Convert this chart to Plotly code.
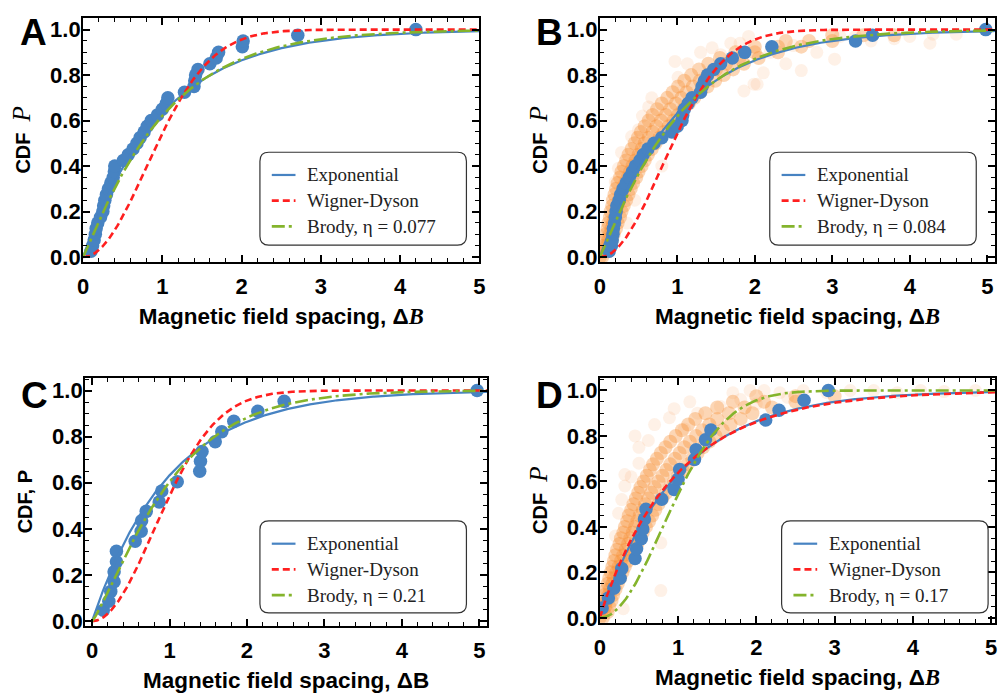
import math
import numpy as np
import plotly.graph_objects as go

W, H = 1003, 698

# ---------------- data ----------------
# Panel A : measured empirical CDF
A_x = [0.10, 0.12, 0.14, 0.155, 0.165, 0.185, 0.22, 0.25, 0.26, 0.275,
       0.295, 0.32, 0.35, 0.38, 0.395, 0.40, 0.51, 0.57, 0.63, 0.68,
       0.72, 0.77, 0.81, 0.86, 0.94, 1.00, 1.05, 1.07, 1.28, 1.40,
       1.41, 1.42, 1.45, 1.60, 1.68, 1.71, 2.01, 2.02, 2.71, 4.20]
A_y = [0.025, 0.05, 0.075, 0.10, 0.125, 0.15, 0.175, 0.20, 0.225, 0.25,
       0.275, 0.30, 0.325, 0.35, 0.375, 0.40, 0.425, 0.45, 0.475, 0.50,
       0.525, 0.55, 0.575, 0.60, 0.625, 0.65, 0.675, 0.70, 0.725, 0.75,
       0.775, 0.80, 0.825, 0.85, 0.875, 0.90, 0.925, 0.95, 0.975, 1.00]

# Panel B : measured empirical CDF
B_x = [0.12, 0.15, 0.16, 0.17, 0.175, 0.19, 0.20, 0.21, 0.22, 0.25,
       0.27, 0.30, 0.34, 0.38, 0.42, 0.46, 0.52, 0.56, 0.62, 0.70,
       0.80, 0.93, 1.00, 1.06, 1.07, 1.09, 1.14, 1.19, 1.30, 1.32,
       1.35, 1.39, 1.47, 1.56, 1.71, 1.87, 2.22, 3.30, 3.52, 4.98]
B_y = A_y

# Panel C : measured empirical CDF
C_x = [0.145, 0.217, 0.242, 0.285, 0.285, 0.315, 0.315, 0.557, 0.634, 0.64,
       0.70, 0.867, 0.90, 1.10, 1.39, 1.40, 1.42, 1.59, 1.675, 1.83,
       2.14, 2.48, 4.97]
C_y = [0.047, 0.086, 0.129, 0.171, 0.214, 0.257, 0.303, 0.346, 0.39, 0.435,
       0.476, 0.517, 0.564, 0.604, 0.65, 0.693, 0.736, 0.778, 0.821, 0.867,
       0.91, 0.953, 1.0]

# Panel D : measured empirical CDF
D_x = [0.03, 0.11, 0.18, 0.26, 0.28, 0.45, 0.47, 0.53, 0.55, 0.57,
       0.59, 0.79, 0.95, 1.00, 1.02, 1.21, 1.23, 1.35, 1.42, 2.12,
       2.29, 2.61, 2.92]
D_y = [0.043, 0.087, 0.13, 0.174, 0.217, 0.261, 0.304, 0.348, 0.391, 0.435,
       0.478, 0.522, 0.565, 0.609, 0.652, 0.696, 0.739, 0.783, 0.826, 0.870,
       0.913, 0.957, 1.0]

# Orange clouds (simulated realisations) in B and D.
# dense core, as rows of (P, spacings)
B_core_rows = [
    (0.000, [0.00, 0.03]),
    (0.025, [0.03, 0.07, 0.11]),
    (0.050, [0.05, 0.09, 0.14]),
    (0.075, [0.07, 0.11, 0.16]),
    (0.100, [0.08, 0.13, 0.18]),
    (0.125, [0.10, 0.15, 0.21]),
    (0.150, [0.11, 0.17, 0.23]),
    (0.175, [0.13, 0.19, 0.26]),
    (0.200, [0.14, 0.21, 0.28]),
    (0.225, [0.16, 0.23, 0.31]),
    (0.250, [0.17, 0.25, 0.34]),
    (0.275, [0.19, 0.28, 0.37]),
    (0.300, [0.21, 0.30, 0.40]),
    (0.325, [0.23, 0.33, 0.43]),
    (0.350, [0.26, 0.36, 0.47]),
    (0.375, [0.28, 0.39, 0.50]),
    (0.400, [0.31, 0.42, 0.54]),
    (0.425, [0.34, 0.46, 0.58]),
    (0.450, [0.37, 0.50, 0.62]),
    (0.475, [0.41, 0.54, 0.67]),
    (0.500, [0.45, 0.58, 0.72]),
    (0.525, [0.49, 0.63, 0.77]),
    (0.550, [0.53, 0.68, 0.83]),
    (0.575, [0.58, 0.73, 0.89]),
    (0.600, [0.63, 0.79, 0.95]),
    (0.625, [0.68, 0.85, 1.01]),
    (0.650, [0.74, 0.91, 1.08]),
    (0.675, [0.80, 0.98, 1.15]),
    (0.700, [0.87, 1.05, 1.22]),
    (0.725, [0.94, 1.12, 1.30]),
    (0.750, [1.01, 1.20, 1.39]),
    (0.775, [1.09, 1.29, 1.49]),
    (0.800, [1.18, 1.39, 1.60]),
    (0.825, [1.28, 1.50, 1.72]),
    (0.850, [1.40, 1.63, 1.86]),
    (0.875, [1.55, 1.80, 2.05]),
    (0.900, [1.75, 2.00, 2.30]),
    (0.925, [2.00, 2.30, 2.60]),
    (0.950, [2.40, 2.70, 3.00]),
    (0.975, [3.00, 3.40, 3.80]),
]
# faint scattered realisations
B_halo_x = [0.67, 0.63, 0.55, 0.50, 0.41, 0.28, 0.24, 0.20, 1.13, 1.01,
            0.97, 1.69, 1.92, 2.11, 1.86, 2.03, 1.99, 2.60, 3.03, 4.26,
            4.00, 4.30, 4.60, 3.10, 1.81, 1.56, 2.40, 2.80, 3.50, 3.80,
            1.30, 1.45, 2.20, 2.50, 3.30, 0.05, 0.02, 0.35, 0.45, 0.80]
B_halo_y = [0.70, 0.66, 0.62, 0.56, 0.53, 0.46, 0.39, 0.33, 0.85, 0.79,
            0.86, 0.94, 0.97, 0.81, 0.73, 0.76, 0.76, 0.82, 0.87, 0.94,
            0.97, 0.98, 0.98, 0.97, 0.94, 0.89, 0.85, 0.90, 0.95, 0.96,
            0.90, 0.92, 0.90, 0.93, 0.97, 0.05, 0.02, 0.15, 0.25, 0.40]

D_core_rows = [
    (0.000, [0.00, 0.04]),
    (0.025, [0.01, 0.05, 0.10]),
    (0.050, [0.03, 0.07, 0.12]),
    (0.075, [0.05, 0.09, 0.15]),
    (0.100, [0.06, 0.11, 0.17]),
    (0.125, [0.08, 0.13, 0.20]),
    (0.150, [0.10, 0.16, 0.23]),
    (0.175, [0.12, 0.18, 0.26]),
    (0.200, [0.14, 0.21, 0.29]),
    (0.225, [0.16, 0.24, 0.32]),
    (0.250, [0.18, 0.27, 0.36]),
    (0.275, [0.20, 0.30, 0.40]),
    (0.300, [0.22, 0.33, 0.44]),
    (0.325, [0.25, 0.36, 0.48]),
    (0.350, [0.27, 0.39, 0.51]),
    (0.375, [0.30, 0.42, 0.55]),
    (0.400, [0.32, 0.45, 0.59]),
    (0.425, [0.35, 0.48, 0.63]),
    (0.450, [0.37, 0.51, 0.67]),
    (0.475, [0.40, 0.55, 0.71]),
    (0.500, [0.43, 0.58, 0.75]),
    (0.525, [0.46, 0.62, 0.80]),
    (0.550, [0.49, 0.66, 0.85]),
    (0.575, [0.52, 0.70, 0.90]),
    (0.600, [0.56, 0.75, 0.95]),
    (0.625, [0.60, 0.80, 1.00]),
    (0.650, [0.64, 0.85, 1.06]),
    (0.675, [0.68, 0.90, 1.12]),
    (0.700, [0.73, 0.96, 1.18]),
    (0.725, [0.78, 1.02, 1.25]),
    (0.750, [0.84, 1.08, 1.32]),
    (0.775, [0.90, 1.15, 1.40]),
    (0.800, [0.97, 1.23, 1.48]),
    (0.825, [1.05, 1.31, 1.57]),
    (0.850, [1.13, 1.40, 1.67]),
    (0.875, [1.22, 1.50, 1.80]),
    (0.900, [1.35, 1.65, 1.95]),
    (0.925, [1.50, 1.85, 2.20]),
    (0.950, [1.70, 2.10, 2.50]),
    (0.975, [2.00, 2.50, 3.00]),
]
D_halo_x = [0.89, 0.50, 0.50, 0.32, 0.32, 0.28, 0.24, 1.08, 1.54, 1.92,
            2.00, 0.78, 0.30, 0.78, 0.62, 0.45, 0.70, 1.25, 1.70, 2.10,
            2.30, 2.60, 2.90, 3.20, 3.50, 3.80, 4.10, 4.40, 4.80, 1.80,
            2.40, 0.95, 0.20, 0.40, 1.15]
D_halo_y = [0.88, 0.75, 0.68, 0.63, 0.58, 0.52, 0.46, 0.83, 0.93, 1.00,
            0.94, 0.12, 0.04, 0.33, 0.78, 0.80, 0.85, 0.90, 0.99, 1.00,
            0.99, 1.00, 0.99, 1.00, 1.00, 0.99, 1.00, 0.995, 1.00, 0.96,
            0.97, 0.92, 0.36, 0.62, 0.95]

# Brody parameters from the legends
eta_A, eta_B, eta_C, eta_D = 0.077, 0.084, 0.21, 0.17
# In panel D the drawn curves do not follow their legend labels: the red dashed
# curve hugs the exponential and the green dash-dot one is Wigner-Dyson-like.
D_red_eta = -0.04
D_green_eta = 1.0

x_ticks = [0, 1, 2, 3, 4, 5]
y_ticks = [0.0, 0.2, 0.4, 0.6, 0.8, 1.0]
letters = ["A", "B", "C", "D"]
legend_labels = [
    ["Exponential", "Wigner-Dyson", "Brody, η = 0.077"],
    ["Exponential", "Wigner-Dyson", "Brody, η = 0.084"],
    ["Exponential", "Wigner-Dyson", "Brody, η = 0.21"],
    ["Exponential", "Wigner-Dyson", "Brody, η = 0.17"],
]


# ---------------- theoretical CDFs ----------------
def cdf_exp(s):
    return 1 - np.exp(-s)


def cdf_wd(s):
    return 1 - np.exp(-np.pi * s ** 2 / 4)


def cdf_brody(s, eta):
    b = eta + 1.0
    a = math.gamma((eta + 2.0) / (eta + 1.0)) ** b
    return 1 - np.exp(-a * s ** b)


s = np.linspace(0, 5.1, 400)

BLUE = "#4783C2"
RED = "#FF1F1F"
GREEN = "#84B42C"
CORE = "rgba(246,140,50,0.36)"
HALO = "rgba(246,150,70,0.13)"

fig = go.Figure()


def flat(rows):
    xs, ys = [], []
    for p, row in rows:
        for v in row:
            xs.append(v)
            ys.append(p)
    return xs, ys


curves = [
    [cdf_exp(s), cdf_wd(s), cdf_brody(s, eta_A)],
    [cdf_exp(s), cdf_wd(s), cdf_brody(s, eta_B)],
    [cdf_exp(s), cdf_wd(s), cdf_brody(s, eta_C)],
    [cdf_exp(s), cdf_brody(s, D_red_eta), cdf_brody(s, D_green_eta)],
]
points = [(A_x, A_y), (B_x, B_y), (C_x, C_y), (D_x, D_y)]
clouds = [None, (B_core_rows, B_halo_x, B_halo_y), None, (D_core_rows, D_halo_x, D_halo_y)]

styles = [(BLUE, "solid", 2.2), (RED, "7px,4px", 2.6), (GREEN, "13px,4px,3px,4px", 2.6)]

for i in range(4):
    sfx = "" if i == 0 else str(i + 1)
    xa, ya = "x" + sfx, "y" + sfx
    if clouds[i] is not None:
        rows, hx, hy = clouds[i]
        fig.add_trace(go.Scatter(x=hx, y=hy, mode="markers", xaxis=xa, yaxis=ya,
                                 marker=dict(size=13, color=HALO, line=dict(width=0)),
                                 showlegend=False, hoverinfo="skip"))
        cx, cy = flat(rows)
        fig.add_trace(go.Scatter(x=cx, y=cy, mode="markers", xaxis=xa, yaxis=ya,
                                 marker=dict(size=14, color=CORE, line=dict(width=0)),
                                 showlegend=False, hoverinfo="skip"))
    fig.add_trace(go.Scatter(x=points[i][0], y=points[i][1], mode="markers",
                             xaxis=xa, yaxis=ya,
                             marker=dict(size=13.5, color=BLUE, line=dict(width=0)),
                             showlegend=False))
    for (col, dash, wd), yy, name in zip(styles, curves[i], legend_labels[i]):
        fig.add_trace(go.Scatter(x=s, y=yy, mode="lines", xaxis=xa, yaxis=ya, name=name,
                                 line=dict(color=col, width=wd, dash=dash),
                                 showlegend=False))

# ---------------- axes ----------------
tickfont = dict(family="Liberation Sans", size=22, color="black", weight="bold")
titlefont = dict(family="Liberation Sans", size=22.5, color="black", weight="bold")

xdom = [[78, 479], [601, 1001], [80, 487], [601, 1001]]
ydom = [[18, 265], [18, 265], [382, 633], [382, 630]]
xr = [[0, 5], [0, 5.10], [-0.09, 5.10], [0, 5.05]]
yr = [[-0.0217, 1.052], [-0.0217, 1.052], [-0.020, 1.056], [-0.0217, 1.0565]]

serifB = "<span style='font-family:Liberation Serif;font-style:italic'>B</span>"
serifP = ("<span style='font-family:Liberation Serif;font-style:italic;"
          "font-weight:normal;font-size:25px'>P</span>")
xtitles = ["Magnetic field spacing, Δ" + serifB, "Magnetic field spacing, Δ" + serifB,
           "Magnetic field spacing, ΔB", "Magnetic field spacing, Δ" + serifB]
ytitles = ["CDF  " + serifP, "CDF  " + serifP, "CDF, P", "CDF  " + serifP]

common = dict(showline=True, linecolor="black", linewidth=2, mirror="allticks",
              ticks="inside", ticklen=7, tickwidth=1.6, tickcolor="black",
              showgrid=False, zeroline=False, tickfont=tickfont)

for i in range(4):
    sfx = "" if i == 0 else str(i + 1)
    fig.layout["xaxis" + sfx] = dict(
        common, domain=[xdom[i][0] / W, xdom[i][1] / W], range=xr[i],
        anchor="y" + sfx, tickvals=x_ticks, ticktext=[str(v) for v in x_ticks],
        ticklabelstandoff=4,
        minor=dict(ticks="inside", ticklen=4, tickwidth=1.2, tickcolor="black", dtick=0.2),
        title=dict(text=xtitles[i], font=titlefont, standoff=10))
    fig.layout["yaxis" + sfx] = dict(
        common, domain=[1 - ydom[i][1] / H, 1 - ydom[i][0] / H], range=yr[i],
        anchor="x" + sfx, tickvals=y_ticks, ticktext=["%.1f" % v for v in y_ticks],
        ticklabelstandoff=-4,
        minor=dict(ticks="inside", ticklen=4, tickwidth=1.2, tickcolor="black", dtick=0.05),
        title=dict(text=ytitles[i], font=dict(titlefont, size=20), standoff=14))

# ---------------- legends (rounded boxes, drawn in paper space) ----------------
boxes = [[257, 154, 466, 248], [773, 154, 982, 248], [257, 527, 466, 620], [785, 527, 994, 620]]
shapes, ann = [], []
r = 9


def P(x, y):
    return "%.5f,%.5f" % (x / W, 1 - y / H)


legfont = dict(family="Liberation Serif", size=19, color="#222222")
for bi, (x0, y0, x1, y1) in enumerate(boxes):
    path = ("M" + P(x0 + r, y0) + " L" + P(x1 - r, y0) + " Q" + P(x1, y0) + " " + P(x1, y0 + r) +
            " L" + P(x1, y1 - r) + " Q" + P(x1, y1) + " " + P(x1 - r, y1) +
            " L" + P(x0 + r, y1) + " Q" + P(x0, y1) + " " + P(x0, y1 - r) +
            " L" + P(x0, y0 + r) + " Q" + P(x0, y0) + " " + P(x0 + r, y0) + " Z")
    shapes.append(dict(type="path", path=path, xref="paper", yref="paper",
                       line=dict(color="#333333", width=1.2), fillcolor="rgba(255,255,255,0)"))
    for k, ((col, dash, wd), label) in enumerate(zip(styles, legend_labels[bi])):
        yy = y0 + 23 + 26 * k
        shapes.append(dict(type="line", xref="paper", yref="paper",
                           x0=(x0 + 12) / W, x1=(x0 + 36) / W, y0=1 - yy / H, y1=1 - yy / H,
                           line=dict(color=col, width=wd, dash=dash)))
        ann.append(dict(text=label, x=(x0 + 46) / W, y=1 - yy / H, xref="paper", yref="paper",
                        showarrow=False, xanchor="left", yanchor="middle", font=legfont))

# ---------------- panel letters ----------------
letter_pos = [(12, 33), (534, 33), (13, 400), (534, 400)]
for L, (lx, ly) in zip(letters, letter_pos):
    ann.append(dict(text="<b>" + L + "</b>", x=lx / W, y=1 - ly / H, xref="paper", yref="paper",
                    showarrow=False, xanchor="left", yanchor="middle",
                    font=dict(family="Liberation Sans", size=37, color="black")))

fig.update_layout(width=W, height=H, margin=dict(l=0, r=0, t=0, b=0),
                  paper_bgcolor="white", plot_bgcolor="white",
                  shapes=shapes, annotations=ann, showlegend=False)

fig.write_html("out.html", config={"displayModeBar": False},
               post_script="document.body.style.margin='0';document.body.style.overflow='hidden';")
